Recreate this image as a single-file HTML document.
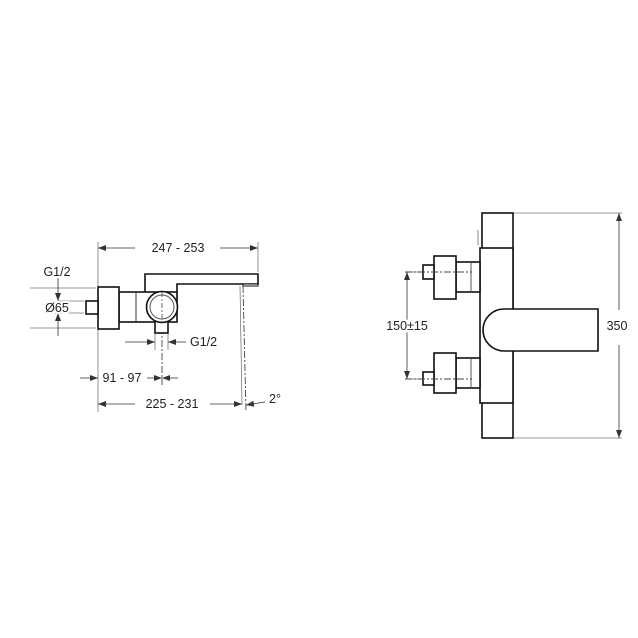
<!DOCTYPE html>
<html><head><meta charset="utf-8"><style>
html,body{margin:0;padding:0;background:#fff}
svg{display:block}
text{font-family:"Liberation Sans",Arial,sans-serif;font-size:12.5px;fill:#222}
</style></head><body>
<svg width="638" height="638" viewBox="0 0 638 638" xmlns="http://www.w3.org/2000/svg">
<defs>
<marker id="a" markerWidth="8" markerHeight="6" refX="8" refY="3" orient="auto" markerUnits="userSpaceOnUse"><path d="M0,0 L8,3 L0,6 Z" fill="#333"/></marker>
</defs>
<g stroke="#777" stroke-width="0.8" fill="none">
<line x1="98" y1="242" x2="98" y2="412"/>
<line x1="258" y1="242" x2="258" y2="272"/>
<line x1="30" y1="288" x2="96" y2="288"/>
<line x1="30" y1="328" x2="96" y2="328"/>
<line x1="55" y1="301" x2="84" y2="301"/>
<line x1="55" y1="313" x2="84" y2="313"/>
<line x1="155" y1="334" x2="155" y2="350"/>
<line x1="168" y1="334" x2="168" y2="350"/>
<line x1="513" y1="213" x2="622" y2="213"/>
<line x1="513" y1="438" x2="622" y2="438"/>
<line x1="405" y1="272" x2="420" y2="272"/>
<line x1="405" y1="379" x2="420" y2="379"/>
</g>
<g stroke="#333" stroke-width="0.8" fill="none">
<line x1="135" y1="248" x2="98" y2="248" marker-end="url(#a)"/>
<line x1="220" y1="248" x2="258" y2="248" marker-end="url(#a)"/>
<line x1="58" y1="278" x2="58" y2="301" marker-end="url(#a)"/>
<line x1="58" y1="336" x2="58" y2="313" marker-end="url(#a)"/>
<line x1="58" y1="301" x2="58" y2="313"/>
<line x1="125" y1="342" x2="155" y2="342" marker-end="url(#a)"/>
<line x1="186" y1="342" x2="168" y2="342" marker-end="url(#a)"/>
<line x1="80" y1="378" x2="98" y2="378" marker-end="url(#a)"/>
<line x1="147" y1="378" x2="162" y2="378" marker-end="url(#a)"/>
<line x1="178" y1="378" x2="162" y2="378" marker-end="url(#a)"/>
<line x1="135" y1="404" x2="98" y2="404" marker-end="url(#a)"/>
<line x1="210" y1="404" x2="242" y2="404" marker-end="url(#a)"/>
<line x1="265" y1="402" x2="246" y2="405" marker-end="url(#a)"/>
<line x1="407" y1="300" x2="407" y2="272" marker-end="url(#a)"/>
<line x1="407" y1="350" x2="407" y2="379" marker-end="url(#a)"/>
<line x1="407" y1="300" x2="407" y2="350"/>
<line x1="619" y1="310" x2="619" y2="213" marker-end="url(#a)"/>
<line x1="619" y1="345" x2="619" y2="438" marker-end="url(#a)"/>
</g>
<g stroke="#444" stroke-width="0.9" fill="none" stroke-dasharray="7,2,2,2">
<line x1="162" y1="288" x2="162" y2="385"/>
<line x1="243" y1="286" x2="246" y2="412"/>
</g>
<line x1="240" y1="286" x2="242" y2="405" stroke="#666" stroke-width="0.7"/>
<!-- left object -->
<g stroke="#111" stroke-width="1.6" fill="#fff">
<path d="M145,293 L145,274 L258,274 L258,284 L177,284 L177,300"/>
<rect x="119" y="292" width="58" height="30"/>
<rect x="98" y="287" width="21" height="42"/>
<rect x="86" y="301" width="12" height="13"/>
<rect x="155" y="321" width="13" height="12"/>
<circle cx="162" cy="307" r="15.5"/>
<rect x="243" y="284" width="15" height="2" stroke-width="1"/>
</g>
<circle cx="162" cy="307" r="12" stroke="#555" stroke-width="1" fill="none"/>
<line x1="136" y1="292" x2="136" y2="322" stroke="#333" stroke-width="1"/>
<line x1="162" y1="292" x2="162" y2="322" stroke="#444" stroke-width="0.8" stroke-dasharray="5,2,2,2"/>
<!-- right object -->
<g stroke="#111" stroke-width="1.6" fill="#fff">
<rect x="482" y="213" width="31" height="225"/>
<rect x="480" y="248" width="33" height="155"/>
<rect x="456" y="262" width="24" height="30"/>
<rect x="456" y="358" width="24" height="30"/>
<rect x="434" y="256" width="22" height="43"/>
<rect x="434" y="353" width="22" height="40"/>
<rect x="423" y="265" width="11" height="14"/>
<rect x="423" y="372" width="11" height="13"/>
<path d="M598,309 L504,309 A21,21 0 0 0 504,351 L598,351 Z"/>
</g>
<line x1="471" y1="262" x2="471" y2="292" stroke="#444" stroke-width="0.9"/>
<line x1="471" y1="358" x2="471" y2="388" stroke="#444" stroke-width="0.9"/>
<line x1="478" y1="230" x2="478" y2="245" stroke="#666" stroke-width="0.8"/>
<g stroke="#444" stroke-width="0.9" fill="none" stroke-dasharray="7,2,2,2">
<line x1="405" y1="272" x2="472" y2="272"/>
<line x1="405" y1="379" x2="472" y2="379"/>
</g>
<text x="178" y="252" text-anchor="middle">247 - 253</text>
<text x="57" y="276" text-anchor="middle">G1/2</text>
<text x="57" y="312" text-anchor="middle" style="paint-order:stroke" stroke="#fff" stroke-width="4">Ø65</text>
<text x="190" y="346">G1/2</text>
<text x="122" y="382" text-anchor="middle">91 - 97</text>
<text x="172" y="408" text-anchor="middle">225 - 231</text>
<text x="269" y="403">2°</text>
<text x="407" y="330" text-anchor="middle" style="paint-order:stroke" stroke="#fff" stroke-width="5">150±15</text>
<text x="617" y="330" text-anchor="middle" style="paint-order:stroke" stroke="#fff" stroke-width="5">350</text>
</svg>
</body></html>
